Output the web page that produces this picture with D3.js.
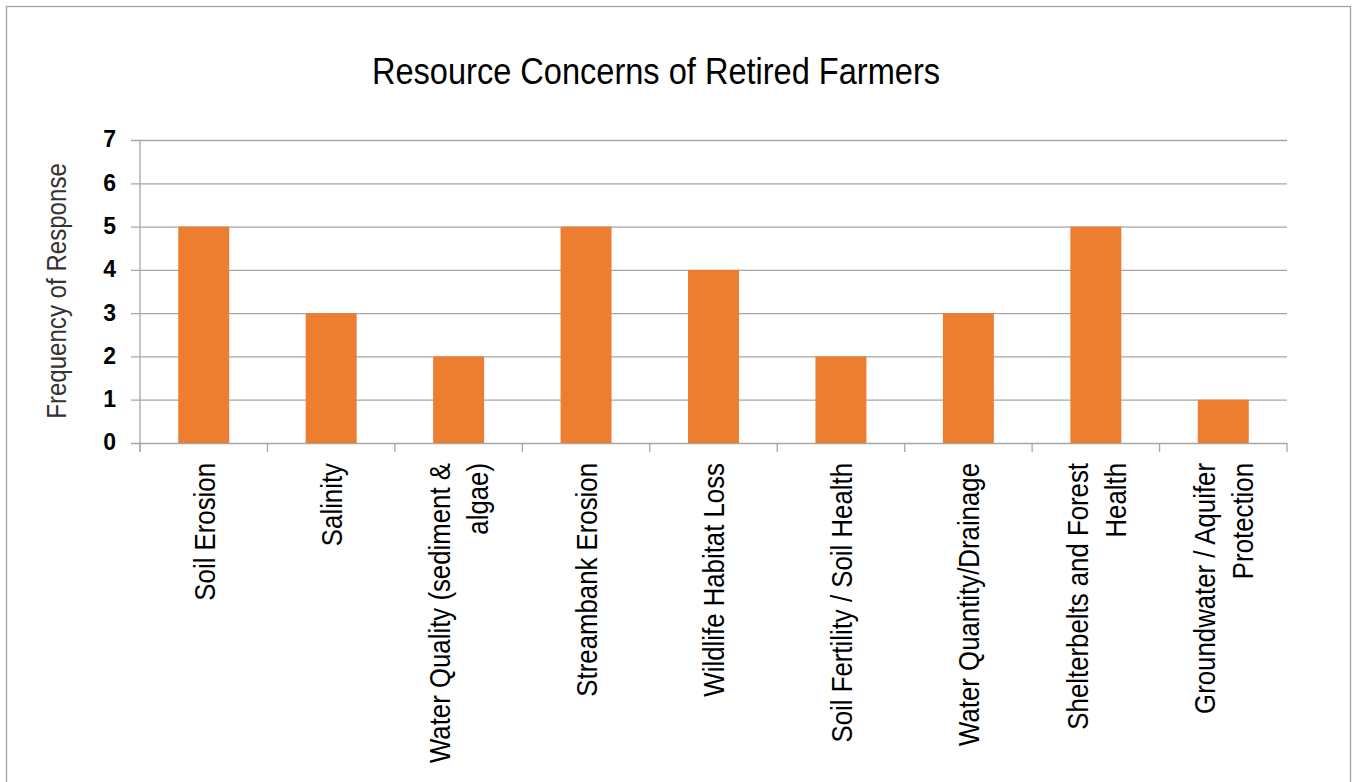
<!DOCTYPE html>
<html>
<head>
<meta charset="utf-8">
<script src="https://cdn.jsdelivr.net/npm/d3@7/dist/d3.min.js"></script>
<style>
  html, body { margin: 0; padding: 0; background: #fff; }
  svg { display: block; }
  .cond { font-family: "Liberation Sans", Arial, sans-serif; }
  .ytick { font-family: "Liberation Sans", Arial, sans-serif; font-weight: bold; font-size: 23px; }
</style>
</head>
<body>
<svg id="chart" width="1357" height="782"></svg>
<script>
// Survey responses: resource concerns named by retired farmers
const categories = [
  ["Soil Erosion"],
  ["Salinity"],
  ["Water Quality (sediment &", "algae)"],
  ["Streambank Erosion"],
  ["Wildlife Habitat Loss"],
  ["Soil Fertility / Soil Health"],
  ["Water Quantity/Drainage"],
  ["Shelterbelts and Forest", "Health"],
  ["Groundwater / Aquifer", "Protection"]
];
const responses = [5, 3, 2, 5, 4, 2, 3, 5, 1];
const yTicks = [0, 1, 2, 3, 4, 5, 6, 7];
const chartTitle = "Resource Concerns of Retired Farmers";
const yTitle = "Frequency of Response";

const svg = d3.select("#chart");
const gridColor = "#a6a6a6";
const barColor = "#ed7d31";
// horizontal squeeze that gives the labels a condensed face
const squeeze = 0.86;

// outer chart frame
svg.append("rect")
  .attr("x", 6.5).attr("y", 6.5)
  .attr("width", 1344).attr("height", 800)
  .attr("fill", "#fff").attr("stroke", "#a0a0a0").attr("stroke-width", 1.3);

const plot = { left: 140, right: 1287, top: 140, bottom: 443 };

const keys = categories.map((c, i) => i);
const x = d3.scaleBand()
  .domain(keys)
  .range([plot.left, plot.right])
  .paddingInner(0.6)
  .paddingOuter(0.3);

const y = d3.scaleLinear()
  .domain([0, 7])
  .range([plot.bottom, plot.top]);

// horizontal gridlines with short ticks to the left of the axis
const yAxis = d3.axisLeft(y)
  .tickValues(yTicks)
  .tickSize(-(plot.right - plot.left))
  .tickFormat(d3.format("d"));

const yg = svg.append("g")
  .attr("transform", `translate(${plot.left},0)`)
  .call(yAxis);
yg.attr("font-size", null).attr("font-family", null);
yg.select(".domain").remove();
yg.selectAll(".tick line")
  .attr("x1", -9)
  .attr("stroke", gridColor).attr("stroke-width", 1.3);
yg.selectAll(".tick text")
  .attr("class", "ytick")
  .attr("x", -24)
  .attr("dy", "0.3em")
  .attr("fill", "#000");

// vertical axis line
svg.append("line")
  .attr("x1", plot.left).attr("x2", plot.left)
  .attr("y1", plot.top).attr("y2", plot.bottom + 9)
  .attr("stroke", gridColor).attr("stroke-width", 1.3);

// category boundary ticks on the baseline
const boundaries = d3.range(categories.length + 1)
  .map(i => x.range()[0] + i * x.step());
svg.append("g").selectAll("line")
  .data(boundaries)
  .join("line")
  .attr("x1", d => d).attr("x2", d => d)
  .attr("y1", plot.bottom).attr("y2", plot.bottom + 9)
  .attr("stroke", gridColor).attr("stroke-width", 1.3);

// bars
svg.append("g").selectAll("rect")
  .data(responses)
  .join("rect")
  .attr("x", (d, i) => x(i))
  .attr("y", d => y(d))
  .attr("width", x.bandwidth())
  .attr("height", d => y(0) - y(d))
  .attr("fill", barColor);

// rotated category labels
const lineGap = 38;
const labels = svg.append("g").selectAll("text")
  .data(categories)
  .join("text")
  .attr("class", "cond")
  .attr("text-anchor", "end")
  .attr("fill", "#000")
  .attr("font-size", 30)
  .attr("transform", (d, i) => {
    const cx = x(i) + x.bandwidth() / 2;
    return `translate(${cx},${plot.bottom + 20}) rotate(-90) scale(${squeeze},1)`;
  });
labels.each(function (lines) {
  const t = d3.select(this);
  const offset = -(lines.length - 1) * lineGap / 2;
  lines.forEach((ln, j) => {
    t.append("tspan")
      .attr("x", 0)
      .attr("y", offset + j * lineGap)
      .attr("dy", "0.36em")
      .text(ln);
  });
});

// axis title
svg.append("text")
  .attr("class", "cond")
  .attr("text-anchor", "middle")
  .attr("fill", "#333")
  .attr("font-size", 28)
  .attr("transform", `translate(66,291) rotate(-90) scale(${squeeze},1)`)
  .text(yTitle);

// chart title
svg.append("text")
  .attr("class", "cond")
  .attr("text-anchor", "middle")
  .attr("fill", "#000")
  .attr("font-size", 37)
  .attr("transform", "translate(656,84) scale(0.88,1)")
  .text(chartTitle);
</script>
</body>
</html>
